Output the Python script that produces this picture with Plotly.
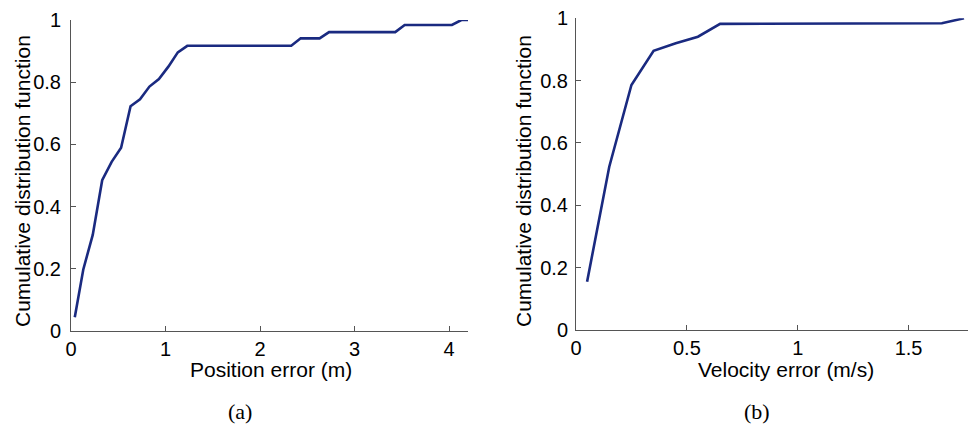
import plotly.graph_objects as go

# ---- data ----
pos_err = [0.04, 0.13, 0.23, 0.33, 0.43, 0.53, 0.63, 0.73, 0.83, 0.93, 1.03, 1.13, 1.23,
           2.33, 2.43, 2.63, 2.73, 3.43, 3.53, 4.03, 4.13, 4.2]
pos_cdf = [0.044, 0.198, 0.309, 0.485, 0.544, 0.589, 0.723, 0.745, 0.786, 0.81, 0.85, 0.896, 0.917,
           0.917, 0.941, 0.941, 0.961, 0.961, 0.984, 0.984, 1.0, 1.0]

vel_err = [0.05, 0.15, 0.25, 0.35, 0.45, 0.55, 0.65, 1.65, 1.75]
vel_cdf = [0.155, 0.524, 0.786, 0.896, 0.92, 0.941, 0.982, 0.984, 1.0]

pos_ticks = [0, 1, 2, 3, 4]
vel_ticks = [0, 0.5, 1, 1.5]
vel_tick_text = ["0", "0.5", "1", "1.5"]
cdf_ticks = [0, 0.2, 0.4, 0.6, 0.8, 1]
cdf_tick_text = ["0", "0.2", "0.4", "0.6", "0.8", "1"]

y_title = "Cumulative distribution function"
x_title_a = "Position error (m)"
x_title_b = "Velocity error (m/s)"
captions = ["(a)", "(b)"]

W, H = 968, 426
LINE = "#1a2a80"
SANS = "Liberation Sans, Arial, Helvetica, sans-serif"
SERIF = "Liberation Serif, Times New Roman, serif"

fig = go.Figure()
fig.add_trace(go.Scatter(x=pos_err, y=pos_cdf, mode="lines",
                         line=dict(color=LINE, width=2.6), xaxis="x", yaxis="y",
                         showlegend=False))
fig.add_trace(go.Scatter(x=vel_err, y=vel_cdf, mode="lines",
                         line=dict(color=LINE, width=2.6), xaxis="x2", yaxis="y2",
                         showlegend=False))

def px(x):
    return x / W

def py(y):
    return (H - y) / H

axis_common = dict(showgrid=False, zeroline=False, showline=True, linecolor="#555555",
                   linewidth=1, ticks="inside", ticklen=5, tickcolor="#555555",
                   automargin=False,
                   tickfont=dict(family=SANS, size=20, color="black"))

fig.update_layout(
    width=W, height=H,
    margin=dict(l=0, r=0, t=0, b=0, pad=0),
    paper_bgcolor="white", plot_bgcolor="white",
    xaxis=dict(domain=[px(71), px(468)], range=[0, 4.2], tickvals=pos_ticks,
               anchor="y", **axis_common),
    yaxis=dict(domain=[py(331), py(20)], range=[0, 1], tickvals=cdf_ticks,
               ticktext=cdf_tick_text, anchor="x", ticklabelstandoff=5, **axis_common),
    xaxis2=dict(domain=[px(576), 1.0], range=[0, 1.768], tickvals=vel_ticks,
                ticktext=vel_tick_text, anchor="y2", **axis_common),
    yaxis2=dict(domain=[py(330), py(18.3)], range=[0, 1], tickvals=cdf_ticks,
                ticktext=cdf_tick_text, anchor="x2", ticklabelstandoff=3, **axis_common),
)

ann_font = dict(family=SANS, size=21, color="black")
cap_font = dict(family=SERIF, size=22, color="black")
annotations = [
    dict(x=px(22), y=py(181), text=y_title, textangle=-90, font=ann_font),
    dict(x=px(523), y=py(181), text=y_title, textangle=-90, font=ann_font),
    dict(x=px(271), y=py(369), text=x_title_a, font=ann_font),
    dict(x=px(786), y=py(369), text=x_title_b, font=ann_font),
    dict(x=px(240), y=py(411), text=captions[0], font=cap_font),
    dict(x=px(757), y=py(411), text=captions[1], font=cap_font),
]
for a in annotations:
    a.update(xref="paper", yref="paper", showarrow=False, xanchor="center", yanchor="middle")
fig.update_layout(annotations=annotations)

fig.write_html("out.html")
